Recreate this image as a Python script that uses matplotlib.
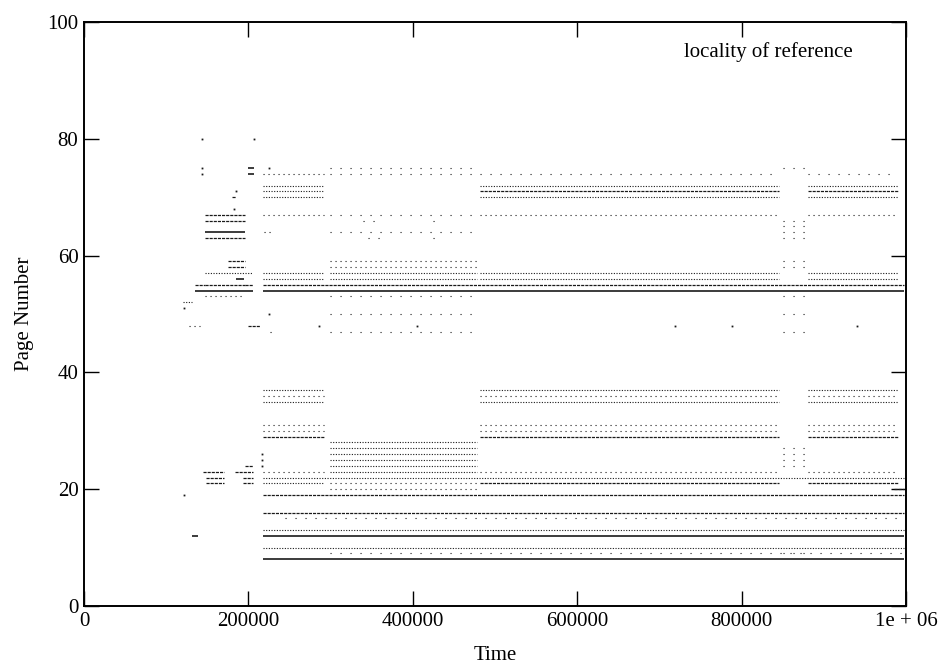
import matplotlib.pyplot as plt

plt.rcParams['font.family'] = ['Liberation Serif', 'DejaVu Serif']

# reference phases (time windows) of the trace
phase_t0 = [147e3, 218e3, 299e3, 482e3, 850e3, 881e3]
phase_t1 = [196e3, 292e3, 478e3, 845e3, 879e3, 990e3]

# pages touched in each phase and how often (solid > dense > dotted > sparse > scatter)
A_pages = [67, 66, 64, 63, 57, 55, 54, 53]
A_density = ['dense', 'dense', 'solid', 'dense', 'dotted', 'dense', 'solid', 'sparse']

B_pages = [74, 72, 71, 70, 67, 57, 56, 37, 36, 35, 31, 30, 29, 23, 21]
B_density = ['sparse', 'dotted', 'dotted', 'dotted', 'sparse', 'dotted', 'dotted',
             'dotted', 'sparse', 'dotted', 'sparse', 'sparse', 'dense', 'sparse', 'dotted']

C_pages = [75, 74, 67, 64, 59, 58, 57, 56, 53, 50, 47, 28, 27, 26, 25, 24, 23, 21, 20]
C_density = ['scatter', 'scatter', 'scatter', 'scatter', 'sparse', 'sparse', 'dotted', 'dotted',
             'scatter', 'scatter', 'scatter', 'dotted', 'dotted', 'dotted', 'dotted', 'dotted',
             'dotted', 'sparse', 'sparse']

D_pages = [74, 72, 71, 70, 67, 57, 56, 37, 36, 35, 31, 30, 29, 23, 21]
D_density = ['scatter', 'dotted', 'dense', 'dotted', 'sparse', 'dotted', 'dotted',
             'dotted', 'sparse', 'dotted', 'sparse', 'sparse', 'dense', 'sparse', 'dense']

T_pages = [75, 66, 65, 64, 63, 59, 58, 53, 50, 47, 27, 26, 25, 24, 9]

E_pages = [74, 72, 71, 70, 67, 57, 56, 37, 36, 35, 31, 30, 29, 23, 21]
E_density = ['scatter', 'dotted', 'dense', 'dotted', 'sparse', 'dotted', 'dotted',
             'dotted', 'sparse', 'dotted', 'sparse', 'sparse', 'dense', 'sparse', 'dense']

# pages referenced for the whole run after ~218k
long_pages = [55, 54, 22, 19, 16, 15, 13, 12, 10, 9, 8]
long_t0 = [218e3, 218e3, 218e3, 218e3, 218e3, 245e3, 218e3, 218e3, 218e3, 299e3, 218e3]
long_t1 = [998e3, 998e3, 998e3, 998e3, 998e3, 998e3, 998e3, 998e3, 998e3, 998e3, 998e3]
long_density = ['dense', 'solid', 'dotted', 'dense', 'dense', 'scatter', 'dotted', 'solid',
                'dotted', 'scatter', 'solid']

# shorter runs
short_pages = [59, 58, 56, 70, 55, 54, 23, 22, 21, 23, 22, 21, 24,
               75, 74, 57, 55, 54, 48, 52, 48, 12, 64, 47, 66, 66, 63, 63, 20]
short_t0 = [175e3, 175e3, 185e3, 180e3, 135e3, 135e3, 145e3, 148e3, 148e3, 184e3, 193e3, 193e3, 196e3,
            199e3, 199e3, 196e3, 196e3, 196e3, 200e3, 120e3, 128e3, 131e3, 219e3, 226e3,
            340e3, 425e3, 345e3, 425e3, 985e3]
short_t1 = [196e3, 196e3, 195e3, 185e3, 147e3, 147e3, 170e3, 170e3, 170e3, 206e3, 206e3, 206e3, 206e3,
            207e3, 207e3, 206e3, 206e3, 206e3, 214e3, 131e3, 141e3, 139e3, 230e3, 232e3,
            360e3, 435e3, 360e3, 435e3, 998e3]
short_density = ['dense', 'dense', 'solid', 'dense', 'dense', 'solid', 'dense', 'dense', 'dense',
                 'dense', 'dense', 'dense', 'dense', 'solid', 'solid', 'dotted', 'dense', 'solid',
                 'dense', 'dotted', 'sparse', 'solid', 'sparse', 'sparse',
                 'scatter', 'scatter', 'scatter', 'scatter', 'dense']

# single references
stray_t = [144e3, 207e3, 144e3, 144e3, 122e3, 122e3, 225e3, 217e3, 217e3, 217e3,
           286e3, 405e3, 719e3, 788e3, 940e3, 185e3, 182e3, 225e3]
stray_page = [80, 80, 75, 74, 51, 19, 50, 26, 25, 24,
              48, 48, 48, 48, 48, 71, 68, 75]

line_style = {
    'solid': ('-', 1.2),
    'dense': ((0, (2.5, 0.8)), 0.9),
    'dotted': ((0, (1, 1.4)), 0.8),
    'sparse': ((0, (1, 3.5)), 0.8),
    'scatter': ((0, (1, 8)), 0.8),
}

# collect every segment
seg_page, seg_t0, seg_t1, seg_dens = [], [], [], []
phase_lists = [(A_pages, A_density), (B_pages, B_density), (C_pages, C_density),
               (D_pages, D_density), (T_pages, ['scatter'] * len(T_pages)), (E_pages, E_density)]
for i, (pages, dens) in enumerate(phase_lists):
    for p, d in zip(pages, dens):
        seg_page.append(p)
        seg_t0.append(phase_t0[i])
        seg_t1.append(phase_t1[i])
        seg_dens.append(d)
for pages, t0s, t1s, dens in [(long_pages, long_t0, long_t1, long_density),
                              (short_pages, short_t0, short_t1, short_density)]:
    seg_page += pages
    seg_t0 += t0s
    seg_t1 += t1s
    seg_dens += dens

fig = plt.figure(figsize=(9.46, 6.71), dpi=100)
ax = fig.add_axes([0.0888, 0.0969, 0.8689, 0.8703])

for name, (ls, lw) in line_style.items():
    idx = [k for k, d in enumerate(seg_dens) if d == name]
    ax.hlines([seg_page[k] for k in idx], [seg_t0[k] for k in idx], [seg_t1[k] for k in idx],
              colors='#1a1a1a', linestyles=[ls], linewidth=lw)

ax.plot(stray_t, stray_page, 's', color='#1a1a1a', markersize=1.3, markeredgewidth=0)

ax.set_xlim(0, 1e6)
ax.set_ylim(0, 100)
ax.set_xticks([0, 2e5, 4e5, 6e5, 8e5, 1e6])
ax.set_xticklabels(['0', '200000', '400000', '600000', '800000', '1e + 06'])
ax.set_yticks([0, 20, 40, 60, 80, 100])
ax.set_yticklabels(['0', '20', '40', '60', '80', '100'])
ax.tick_params(direction='in', length=11, width=1, top=True, right=True,
               labelsize=15, pad=4)
for sp in ax.spines.values():
    sp.set_linewidth(1.4)

ax.set_xlabel('Time', fontsize=15)
ax.set_ylabel('Page Number', fontsize=15)
ax.xaxis.set_label_coords(0.5, -0.068)
ax.yaxis.set_label_coords(-0.061, 0.5)

ax.text(0.833, 0.948, 'locality of reference', transform=ax.transAxes,
        ha='center', va='center', fontsize=15)

fig.savefig('out.png', dpi=100)
